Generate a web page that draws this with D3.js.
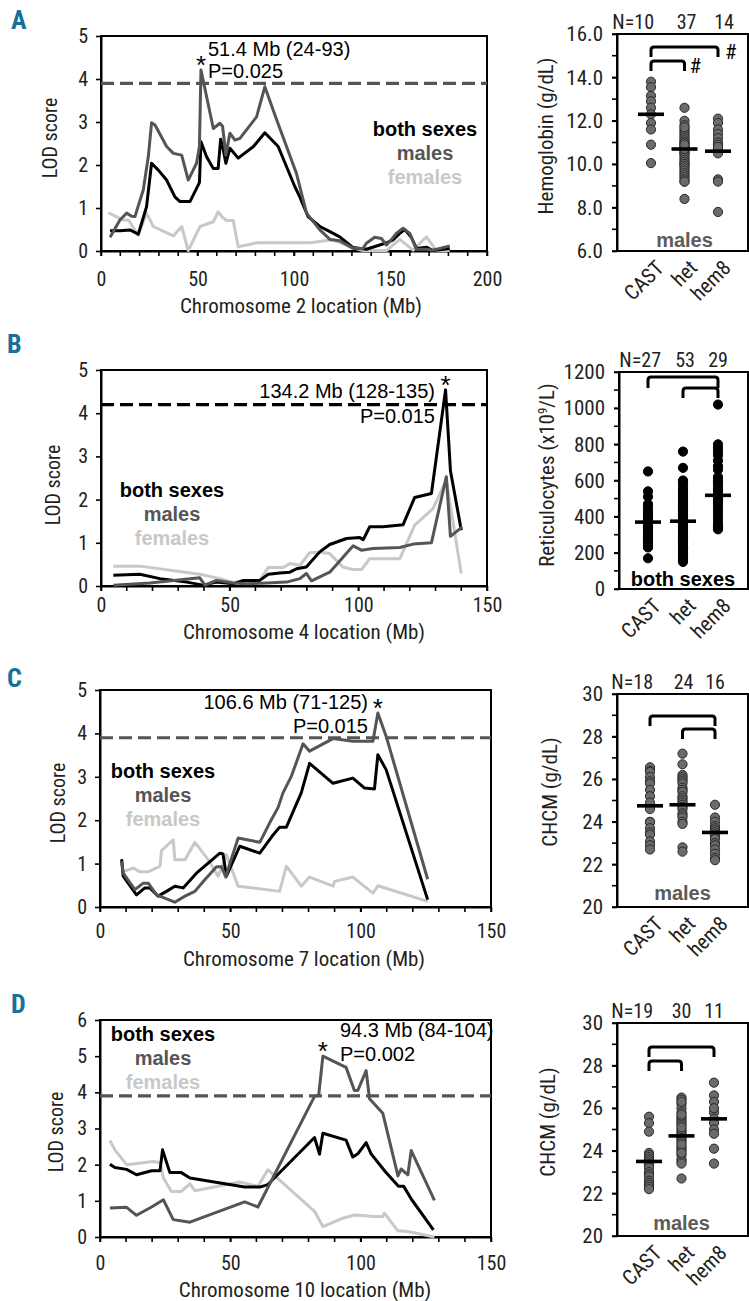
<!DOCTYPE html>
<html><head><meta charset="utf-8">
<script src="https://cdn.jsdelivr.net/npm/d3@7"></script>
<style>body{margin:0;background:#fff}svg{display:block}</style>
</head><body>
<svg id="chart" width="749" height="1301"></svg>
<script>
// ---------------- DATA ----------------
// LOD profiles: [position Mb, LOD]
const A_both = [[4.7,0.47],[9.8,0.47],[15,0.49],[19.3,0.39],[21,0.64],[23.6,1.03],[26.2,2.04],[29.7,1.88],[34,1.65],[38.3,1.26],[40.9,1.15],[46.1,1.15],[51,1.59],[51.8,2.54],[54.7,2.19],[58.2,1.92],[60.7,1.92],[62,2.6],[63,2.43],[64.7,2.04],[66.8,2.39],[71.1,2.16],[79,2.43],[84.9,2.75],[91.8,2.43],[100.4,1.5],[103,1.26],[107.3,0.8],[113.4,0.57],[118.6,0.45],[123.7,0.33],[130.6,0.08],[137.5,0.04],[144.4,0.14],[147.9,0.19],[151.3,0.26],[154.8,0.41],[157.4,0.5],[160.8,0.32],[163.4,0.06],[168.6,0.09],[172,0.01],[180.7,0.06]];
const A_males = [[4.7,0.32],[9.8,0.72],[13.3,0.88],[15.9,0.81],[17.6,0.8],[19.3,1.05],[21.9,1.42],[24.5,2.19],[26.2,2.98],[28,2.93],[34,2.43],[37.5,2.27],[41.8,2.23],[45.2,1.65],[49.5,2.04],[51,2.43],[51.8,4.21],[58.2,2.85],[61.6,2.97],[63,2.9],[64.7,2.23],[66.8,2.74],[69.4,2.58],[72,2.62],[80.6,3.12],[84.9,3.82],[91,3.05],[101.3,1.8],[106.5,0.88],[113.4,0.49],[118.6,0.27],[123.7,0.24],[130.6,0.06],[135.8,0.06],[137.5,0.18],[141.8,0.32],[145.3,0.29],[147.9,0.14],[150.5,0.27],[153,0.41],[156.5,0.53],[160,0.41],[163.4,0.04],[168.6,0.04],[172,0.02],[180.7,0.12]];
const A_females = [[3.8,0.89],[11.6,0.72],[14.2,0.72],[19.3,0.37],[23.6,0.88],[27.1,0.57],[37.5,0.35],[41.8,0.57],[45.2,0.01],[51.3,0.57],[58.2,0.68],[60.7,0.91],[63,0.78],[65.1,0.71],[68.5,0.71],[71.1,0.1],[80.6,0.19],[108.2,0.19],[120.3,0.26],[128.9,0.1],[135.8,0.01],[147.9,0.01],[154.8,0.27],[161.7,0.02],[168.6,0.33],[173.8,0.01],[180.7,0.01]];

const B_both = [[4.8,0.25],[15.1,0.27],[22.9,0.17],[33.3,0.09],[39.7,0.02],[44.9,0.09],[51.4,0.05],[55.3,0.13],[61.7,0.13],[65,0.27],[69.5,0.3],[73.4,0.32],[76,0.4],[79.8,0.44],[85,0.79],[88.9,0.96],[95.4,1.1],[100.6,1.12],[101.9,1.07],[104.4,1.37],[109.6,1.37],[117.4,1.42],[121.9,2.05],[128.4,2.14],[133.9,4.54],[135.8,2.67],[140,1.29]];
const B_males = [[4.8,0.02],[19,0.07],[38.4,0.19],[40.4,0.02],[44.9,0.13],[51.4,0.07],[56.6,0.05],[64.3,0.07],[72.1,0.09],[77.3,0.17],[79.8,0.29],[81.8,0.12],[88.9,0.32],[98,0.93],[101.2,0.83],[105.7,0.87],[116.1,0.89],[121.3,0.97],[128.4,1.0],[134.2,2.53],[135.8,1.15],[140.4,1.37]];
const B_females = [[4.8,0.46],[15.1,0.46],[38.4,0.27],[46.2,0.17],[51.4,0.08],[56.6,0.13],[61.7,0.13],[65,0.43],[70.8,0.43],[73.4,0.52],[77.3,0.48],[81.1,0.77],[85,0.78],[88.9,0.75],[94,0.44],[98,0.38],[101.2,0.38],[104.4,0.63],[116.1,0.63],[121.9,1.41],[129,1.79],[134.2,2.45],[140,0.29]];

const C_both = [[8.3,1.1],[8.9,0.71],[14,0.28],[17.2,0.44],[19.1,0.44],[22.3,0.25],[25.5,0.36],[28.7,0.48],[31.9,0.44],[37,0.78],[41.5,1.01],[46,1.24],[47.2,1.22],[48.5,0.71],[53.6,1.4],[61.3,1.24],[66.4,1.66],[68.9,1.84],[71.5,1.84],[77.2,2.63],[80.4,3.31],[89.4,2.85],[97,2.97],[101.5,2.74],[105.3,2.72],[106.6,3.51],[109.8,3.16],[125.7,0.17]];
const C_males = [[8.3,1.05],[8.9,0.78],[13.4,0.4],[16.6,0.55],[18.5,0.55],[21.7,0.28],[28.7,0.11],[32.6,0.25],[36.4,0.36],[40.2,0.63],[44.7,0.93],[46.6,0.93],[48.3,0.69],[49.8,1.0],[53,1.59],[61.3,1.49],[65.1,1.94],[68.3,2.29],[70.2,2.63],[73.4,3.01],[77.9,3.76],[80.4,3.59],[89.4,3.88],[97,3.82],[104.7,3.82],[106.6,4.47],[109.8,3.93],[125.7,0.64]];
const C_females = [[8.3,0.8],[12.8,0.9],[15.3,0.81],[18.5,0.81],[23,0.94],[23.6,1.3],[28.1,1.55],[28.7,1.09],[32.6,1.09],[36.4,1.49],[41.5,1.09],[45.3,0.71],[48.5,1.2],[53,0.48],[58.7,0.44],[68.9,0.36],[71.5,0.94],[77.2,0.48],[80.4,0.69],[89.4,0.48],[90,0.59],[97,0.69],[104.7,0.32],[106.6,0.49],[125.7,0.13]];

const D_both = [[3.8,2.01],[5.7,1.92],[10.2,1.87],[14,1.72],[19.8,1.83],[23,1.83],[24,2.41],[26.8,1.78],[31.2,1.78],[34.5,1.63],[55.5,1.38],[61.3,1.38],[64.4,1.45],[82.3,2.75],[84.2,2.29],[85.5,2.87],[94.4,2.68],[97,2.21],[98.9,2.3],[102.1,2.61],[104,2.3],[109.4,1.81],[114.5,1.4],[116.5,1.4],[119.6,1.03],[127.9,0.2]];
const D_males = [[3.8,0.8],[10.2,0.82],[14,0.6],[19.8,0.83],[24.3,1.03],[28.1,0.48],[34.5,0.41],[55.5,0.97],[60.6,0.83],[82.3,3.89],[83.9,3.92],[85.5,5.0],[94.4,4.69],[97.6,4.05],[98.9,4.05],[102.1,4.6],[103.4,3.82],[108.5,3.42],[114.3,1.69],[115.5,1.88],[118.1,1.72],[119.4,2.39],[128.3,1.01]];
const D_females = [[3.8,2.67],[5.7,2.41],[10.2,2.0],[20.4,2.09],[23,2.06],[24.3,1.64],[27.4,1.26],[31.2,1.26],[34.5,1.47],[36.4,1.28],[53.6,1.52],[60.6,1.4],[64.4,1.86],[82.3,0.71],[85.5,0.29],[93.2,0.52],[97.6,0.61],[102.1,0.59],[104,0.57],[108.5,0.57],[109.1,0.66],[114.3,0.17],[118.1,0.15],[128.3,0.0]];

// Phenotype dot plots
const genotypes = ["CAST", "het", "hem8"];
const A_cast = [13.8,13.55,13.15,12.9,12.6,12.3,11.9,11.6,10.9,10.05];
const A_het = [12.6,12.0,11.8,11.6,11.5,11.4,11.3,11.2,11.1,11.0,11.0,10.9,10.8,10.8,10.7,10.6,10.5,10.5,10.4,10.3,10.2,10.1,10.0,10.0,9.9,9.8,9.7,9.6,9.5,9.4,9.3,9.2,9.2,10.7,11.7,10.9,8.4];
const A_hem8 = [12.1,11.9,11.6,11.4,11.2,11.0,10.9,10.7,10.6,10.5,9.3,9.2,7.8,10.8];
const A_means = [12.3,10.7,10.6];
const A_N = ["N=10","37","14"];

const B_cast = [650,540,510,470,450,430,420,410,400,390,380,370,360,350,340,330,320,310,300,290,280,270,260,250,240,230,170];
const B_het = [760,670,600,590,580,560,550,540,530,520,510,500,490,480,470,460,450,440,430,420,410,400,390,380,370,360,350,340,330,320,310,300,290,280,270,260,250,240,230,220,210,200,190,180,170,160,150,440,400,360,320,280,230];
const B_hem8 = [1020,800,780,760,740,710,680,660,620,600,590,580,560,550,540,520,510,500,490,480,470,450,430,410,390,370,350,340,330];
const B_means = [370,375,518];
const B_N = ["N=27","53","29"];

const C_cast = [26.56,26.4,26.34,26.1,25.9,25.8,25.5,25.2,24.9,24.6,24.0,23.98,23.7,23.5,23.4,23.08,22.9,22.7];
const C_het = [27.2,26.7,26.2,26.1,26.0,25.9,25.8,25.6,25.5,25.4,25.2,25.1,25.0,24.9,24.8,24.7,24.6,24.4,24.3,24.2,24.0,23.9,22.8,22.6];
const C_hem8 = [24.8,24.2,24.0,23.8,23.7,23.6,23.5,23.4,23.3,23.2,23.0,22.9,22.7,22.5,22.3,22.2];
const C_means = [24.75,24.8,23.5];
const C_N = ["N=18","24","16"];

const D_cast = [25.6,25.3,24.9,23.9,23.8,23.7,23.6,23.5,23.4,23.3,23.2,23.0,22.9,22.8,22.6,22.5,22.4,22.3,22.2];
const D_het = [26.5,26.4,26.2,26.0,25.8,25.6,25.5,25.4,25.3,25.2,25.0,24.9,24.8,24.7,24.6,24.5,24.4,24.2,24.1,24.0,23.8,23.6,23.5,23.4,22.7,26.3,25.7,25.1,24.3,23.9];
const D_hem8 = [27.2,26.6,26.3,25.8,25.5,25.3,25.0,24.8,24.1,23.4,26.0];
const D_means = [23.5,24.7,25.5];
const D_N = ["N=19","30","11"];

const seriesNames = ["both sexes", "males", "females"];

// ---------------- STYLE / LAYOUT ----------------
const FONT = "'Liberation Sans', Arial, Helvetica, sans-serif";
const COND = "'Roboto Condensed', 'Liberation Sans', sans-serif";
const COL = {both:"#000000", males:"#555555", females:"#c8c8c8"};
const TXT = "#231f20";
const svg = d3.select("#chart");

function panelLetter(t, x, y) {
  svg.append("text").attr("x", x).attr("y", y)
    .attr("font-family", COND).attr("font-weight", "bold").attr("font-size", 26)
    .attr("fill", "#17709a").text(t);
}

function lodPanel(c) {
  const x = d3.scaleLinear().domain([0, c.xMax]).range([c.x0, c.x1]);
  const y = d3.scaleLinear().domain([0, c.yMax]).range([c.yBot, c.yTop]);
  const g = svg.append("g");
  const xa = g.append("g").attr("transform", `translate(0,${c.yBot})`)
    .call(d3.axisBottom(x).tickValues(d3.range(0, c.xMax + 1, 50)).tickSize(5).tickSizeOuter(0).tickPadding(c.tickPad));
  g.append("g").selectAll("line").data(d3.range(0, c.xMax + 1, 10)).join("line")
    .attr("x1", d => x(d)).attr("x2", d => x(d)).attr("y1", c.yBot).attr("y2", c.yBot + 5)
    .attr("stroke", "#000").attr("stroke-width", 1.6);
  const ya = g.append("g").attr("transform", `translate(${c.x0},0)`)
    .call(d3.axisLeft(y).tickValues(d3.range(0, c.yMax + 1, 1)).tickFormat(d3.format("d"))
      .tickSize(5).tickSizeOuter(0).tickPadding(8));
  [xa, ya].forEach(a => {
    a.attr("font-family", COND).attr("font-size", 20);
    a.select(".domain").attr("stroke-width", 2);
    a.selectAll(".tick line").attr("stroke-width", 1.6);
    a.selectAll(".tick text").attr("fill", TXT);
  });
  g.append("rect").attr("x", c.x0).attr("y", c.yTop).attr("width", c.x1 - c.x0).attr("height", c.yBot - c.yTop)
    .attr("fill", "none").attr("stroke", "#000").attr("stroke-width", 2);
  g.append("line").attr("x1", c.x0).attr("x2", c.x1).attr("y1", y(c.thr)).attr("y2", y(c.thr))
    .attr("stroke", c.thrColor).attr("stroke-width", 3.2).attr("stroke-dasharray", "13,6");
  const line = d3.line().x(d => x(d[0])).y(d => y(d[1]));
  [["females", c.data[2]], ["both", c.data[0]], ["males", c.data[1]]].forEach(([k, d]) => {
    g.append("path").datum(d).attr("d", line).attr("fill", "none")
      .attr("stroke", COL[k]).attr("stroke-width", 3).attr("stroke-linejoin", "round");
  });
  g.append("text").attr("x", c.titleX).attr("y", c.yBot + c.titleOff).attr("text-anchor", "middle")
    .attr("font-family", COND).attr("font-size", 21).attr("fill", TXT).text(c.title);
  g.append("text").attr("transform", `translate(${c.yTitleX},${c.yTitleY}) rotate(-90)`).attr("text-anchor", "middle")
    .attr("font-family", COND).attr("font-size", 20).attr("fill", TXT).text("LOD score");
  ["both", "males", "females"].forEach((k, i) => {
    g.append("text").attr("x", c.legX).attr("y", c.legY + i * 24).attr("text-anchor", "middle")
      .attr("font-family", FONT).attr("font-weight", "bold").attr("font-size", 20)
      .attr("fill", COL[k]).text(seriesNames[i]);
  });
  c.ann.forEach((t, i) => {
    g.append("text").attr("x", c.annX).attr("y", c.annY[i]).attr("text-anchor", c.annAnchor)
      .attr("font-family", FONT).attr("font-size", 20).attr("fill", "#000").text(t);
  });
  g.append("text").attr("x", x(c.peak[0])).attr("y", y(c.peak[1]) + 4).attr("text-anchor", "middle")
    .attr("font-family", FONT).attr("font-size", 26).attr("fill", "#000").text("*");
}

function dotPanel(c) {
  const y = d3.scaleLinear().domain(c.domain).range([c.yBot, c.yTop]);
  const x = d3.scalePoint().domain(genotypes).range(c.catRange);
  const g = svg.append("g");
  const ya = g.append("g").attr("transform", `translate(${c.x0},0)`)
    .call(d3.axisLeft(y).tickValues(d3.range(c.domain[0], c.domain[1] + 0.001, c.major)).tickFormat(c.fmt)
      .tickSize(5).tickSizeOuter(0).tickPadding(9));
  ya.attr("font-family", COND).attr("font-size", 21);
  ya.select(".domain").attr("stroke-width", 2);
  ya.selectAll(".tick line").attr("stroke-width", 1.6);
  ya.selectAll(".tick text").attr("fill", TXT);
  g.append("g").selectAll("line").data(d3.range(c.domain[0], c.domain[1] + 0.001, c.minor)).join("line")
    .attr("x1", c.x0 - 5).attr("x2", c.x0).attr("y1", d => y(d)).attr("y2", d => y(d))
    .attr("stroke", "#000").attr("stroke-width", 1.6);
  g.append("rect").attr("x", c.x0).attr("y", c.yTop).attr("width", c.x1 - c.x0).attr("height", c.yBot - c.yTop)
    .attr("fill", "none").attr("stroke", "#000").attr("stroke-width", 2);
  genotypes.forEach((gt, i) => {
    g.append("g").selectAll("circle").data(c.values[i]).join("circle")
      .attr("cx", x(gt)).attr("cy", d => y(d)).attr("r", 4.6)
      .attr("fill", c.dotFill).attr("stroke", c.dotStroke).attr("stroke-width", 1);
  });
  g.append("g").selectAll("line").data(c.means).join("line")
    .attr("x1", (d, i) => x(genotypes[i]) - 13).attr("x2", (d, i) => x(genotypes[i]) + 13)
    .attr("y1", d => y(d)).attr("y2", d => y(d)).attr("stroke", "#000").attr("stroke-width", 3.6);
  c.brackets.forEach(b => {
    const xa = x(genotypes[b[0]]), xb = x(genotypes[b[1]]);
    const t = c.yTop + b[2], l = c.yTop + b[3], r = 3;
    g.append("path").attr("d", `M${xa},${l}V${t + r}Q${xa},${t} ${xa + r},${t}H${xb - r}Q${xb},${t} ${xb},${t + r}V${l}`)
      .attr("fill", "none").attr("stroke", "#000").attr("stroke-width", 3);
  });
  (c.hashes || []).forEach(h => {
    g.append("text").attr("x", x(genotypes[h[0]]) + h[1]).attr("y", c.yTop + h[2])
      .attr("font-family", COND).attr("font-size", 21).attr("fill", "#000").text("#");
  });
  c.N.forEach((t, i) => {
    g.append("text").attr("x", x(genotypes[i]) + (i === 0 ? c.nOff[0] : c.nOff[i]))
      .attr("y", c.yTop - 5).attr("text-anchor", i === 0 ? "end" : "middle")
      .attr("font-family", COND).attr("font-size", 20).attr("fill", TXT).text(t);
  });
  genotypes.forEach((gt, i) => {
    g.append("text").attr("transform", `translate(${x(gt) + 9},${c.yBot + 13}) rotate(-45)`)
      .attr("text-anchor", "end").attr("dy", "0.35em")
      .attr("font-family", COND).attr("font-size", 21).attr("fill", TXT).text(gt);
  });
  g.append("text").attr("x", x("het")).attr("y", c.yBot - c.grpOff).attr("text-anchor", "middle")
    .attr("font-family", FONT).attr("font-weight", "bold").attr("font-size", 20)
    .attr("fill", c.grpColor).text(c.grp);
  const yt = g.append("text").attr("transform", `translate(${c.yTitleX},${c.yTitleY}) rotate(-90)`).attr("text-anchor", "middle")
    .attr("font-family", COND).attr("font-size", 21).attr("fill", TXT);
  c.yTitle.forEach(p => {
    const ts = yt.append("tspan").text(p.t);
    if (p.sup) ts.attr("font-size", 13).attr("dy", -7);
    if (p.after) ts.attr("dy", 7);
  });
}

// ---------------- DRAW ----------------
panelLetter("A", 11, 29);
panelLetter("B", 7, 353);
panelLetter("C", 7, 687);
panelLetter("D", 11, 1013);

lodPanel({x0:101, x1:487, yTop:36, yBot:251, xMax:200, yMax:5, thr:3.9, thrColor:"#555",
  tickPad:16, titleOff:62, titleX:301, title:"Chromosome 2 location (Mb)", yTitleX:57, yTitleY:138,
  legX:425, legY:136, ann:["51.4 Mb (24-93)","P=0.025"], annX:208, annY:[56,78], annAnchor:"start",
  peak:[51.8,4.21], data:[A_both, A_males, A_females]});
lodPanel({x0:101, x1:487, yTop:370, yBot:586, xMax:150, yMax:5, thr:4.2, thrColor:"#000",
  tickPad:7, titleOff:53, titleX:304, title:"Chromosome 4 location (Mb)", yTitleX:60, yTitleY:485,
  legX:172, legY:497, ann:["134.2 Mb (128-135)","P=0.015"], annX:435, annY:[398,423], annAnchor:"end",
  peak:[133.9,4.54], data:[B_both, B_males, B_females]});
lodPanel({x0:100, x1:491, yTop:690, yBot:907, xMax:150, yMax:5, thr:3.9, thrColor:"#555",
  tickPad:12, titleOff:59, titleX:304, title:"Chromosome 7 location (Mb)", yTitleX:65, yTitleY:803,
  legX:163, legY:778, ann:["106.6 Mb (71-125)","P=0.015"], annX:368, annY:[709,733], annAnchor:"end",
  peak:[106.6,4.47], data:[C_both, C_males, C_females]});
lodPanel({x0:100, x1:491, yTop:1020, yBot:1237, xMax:150, yMax:6, thr:3.9, thrColor:"#555",
  tickPad:14, titleOff:60, titleX:305, title:"Chromosome 10 location (Mb)", yTitleX:63, yTitleY:1132,
  legX:163, legY:1041, ann:["94.3 Mb (84-104)","P=0.002"], annX:340, annY:[1037,1061], annAnchor:"start",
  peak:[85.5,5.0], data:[D_both, D_males, D_females]});

dotPanel({x0:617, x1:748, yTop:34, yBot:251, domain:[6,16], major:2, minor:1, fmt:d3.format(".1f"),
  catRange:[651,718], values:[A_cast, A_het, A_hem8], means:A_means, N:A_N, nOff:[3,2,6],
  dotFill:"#6b6b6b", dotStroke:"#2a2a2a", brackets:[[0,2,13,23],[0,1,27,37]], hashes:[[2,7,25],[1,5,39]],
  grp:"males", grpColor:"#5b5b5b", grpOff:4, yTitleX:553, yTitleY:136, yTitle:[{t:"Hemoglobin (g/dL)"}]});
dotPanel({x0:619, x1:748, yTop:372, yBot:589, domain:[0,1200], major:200, minor:100, fmt:d3.format("d"),
  catRange:[648,718], values:[B_cast, B_het, B_hem8], means:B_means, N:B_N, nOff:[13,2,0],
  dotFill:"#000", dotStroke:"#000", brackets:[[0,2,5,16],[1,2,16,26]],
  grp:"both sexes", grpColor:"#000", grpOff:3, yTitleX:554, yTitleY:475,
  yTitle:[{t:"Reticulocytes (x10"},{t:"9",sup:true},{t:"/L)",after:true}]});
dotPanel({x0:617, x1:748, yTop:694, yBot:907, domain:[20,30], major:2, minor:1, fmt:d3.format("d"),
  catRange:[650,715], values:[C_cast, C_het, C_hem8], means:C_means, N:C_N, nOff:[3,1,0],
  dotFill:"#6b6b6b", dotStroke:"#2a2a2a", brackets:[[0,2,22,32],[1,2,35,45]],
  grp:"males", grpColor:"#5b5b5b", grpOff:7, yTitleX:557, yTitleY:792, yTitle:[{t:"CHCM (g/dL)"}]});
dotPanel({x0:617, x1:748, yTop:1023, yBot:1236, domain:[20,30], major:2, minor:1, fmt:d3.format("d"),
  catRange:[649,714], values:[D_cast, D_het, D_hem8], means:D_means, N:D_N, nOff:[4,0,0],
  dotFill:"#6b6b6b", dotStroke:"#2a2a2a", brackets:[[0,2,24,34],[0,1,38,48]],
  grp:"males", grpColor:"#5b5b5b", grpOff:6, yTitleX:555, yTitleY:1122, yTitle:[{t:"CHCM (g/dL)"}]});
</script>
</body></html>
